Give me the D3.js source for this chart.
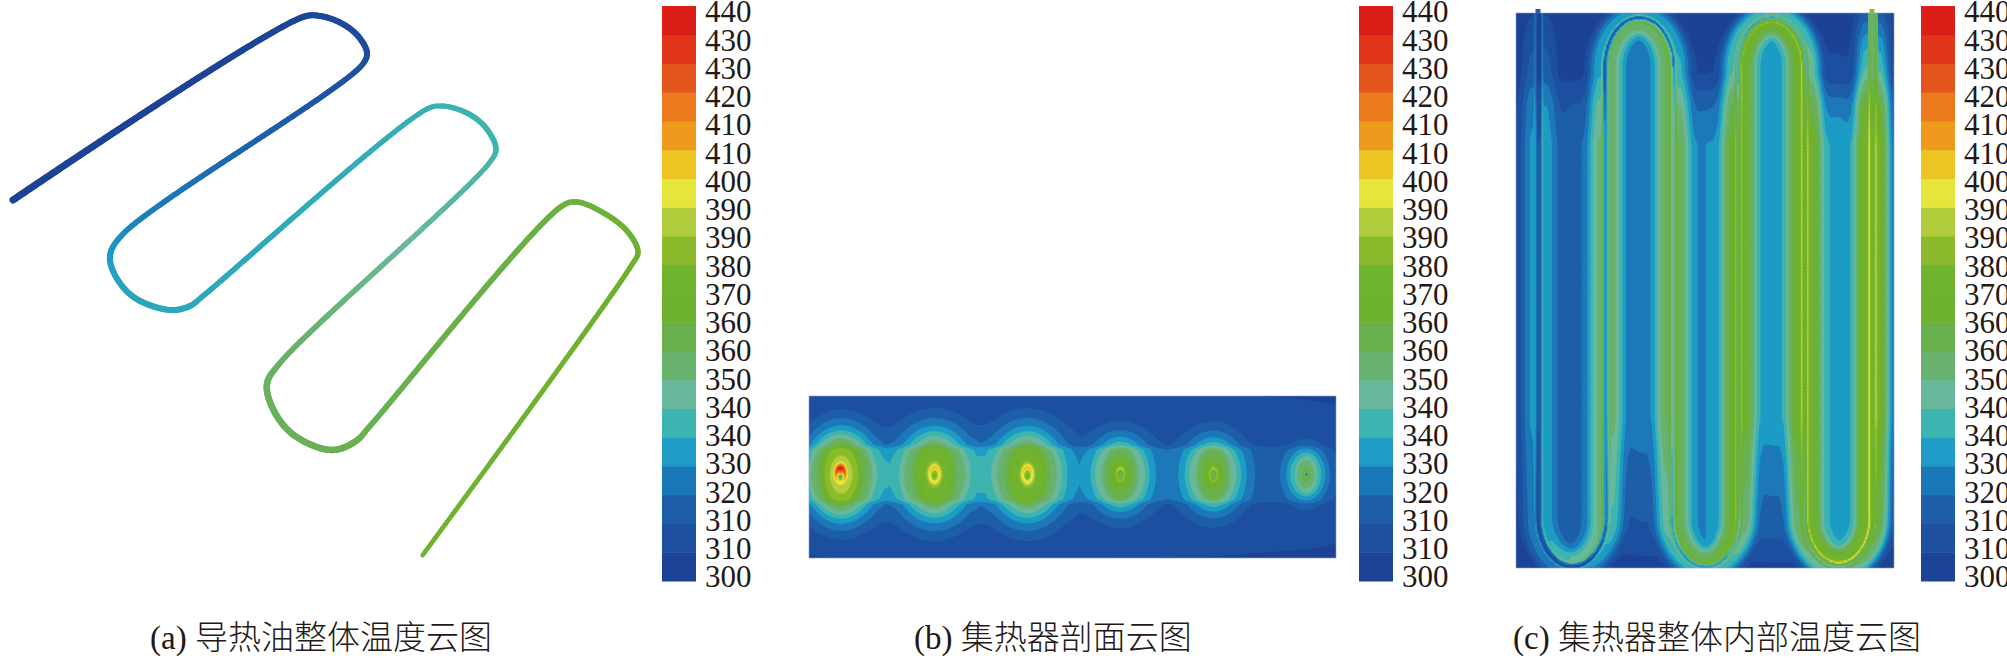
<!DOCTYPE html>
<html>
<head>
<meta charset="utf-8">
<script src="https://cdn.jsdelivr.net/npm/d3@7"></script>
<style>
   html, body {margin:0; padding:0; background:#fff; overflow:hidden;}
   text {fill:#231815;}
   .caption {font-family:"Liberation Serif","Noto Sans CJK SC"; font-size:33px; font-weight:300;}
</style>
</head>
<body>
<svg id="chart" width="2007" height="658"></svg>
<script>
// legend, top label first, colours bottom band first
var legendLabels = [440,430,430,420,410,410,400,390,390,380,370,360,360,350,340,340,330,320,310,310,300]
var legendColors = ['#1c4395','#1f4f9f','#1e5ea8','#1b78b8','#1e9cc5','#3cb4b0','#6ab89c','#68b26e','#69b04f','#6db12e',
                    '#6fb32f','#8bbb2c','#b2cd3c','#e6e53b','#ecc523','#ef9a1c','#ea7a1b','#e4551d','#e1361a','#db1e17']
var tempMin = 300
var tempMax = 440

var captions = ['(a) 导热油整体温度云图','(b) 集热器剖面云图','(c) 集热器整体内部温度云图']

// (a) oil pipe centre line and temperature read along it
var pipeX = [13,303,320,341,358,367,362,122,110,116,135,170,190,203,427,442,467,486,496,490,280,267,274,295,332,356,370,562,577,602,627,638,631,422]
var pipeY = [200,17,16,23,36,53,65,235,256,277,298,310,306,296,109,106,113,128,149,162,363,384,411,436,450,441,426,206,202,212,231,252,266,556]
var pipeT = [300,305,306,307,308,309,310,328,331,333,334,335,335,335,337,338,338,339,339,340,354,356,357,358,358,359,359,362,363,364,365,366,366,374]
var pipeW = [7,6,6,6,6,6,5.5,5.5,6,6,6,6,6,5.5,5,5,5.5,5.5,5.5,5,5.5,6.5,6.5,6.5,6.5,6.5,5.5,5.5,5.5,5.5,5.5,5.5,5,4.5]

// (b) section: hot spots on the tubes
var spotX = [840,934,1027,1120,1213,1306]
var spotY = [474,474,474,474,474,474]
var spotPeak = [1.22,1.0,1.0,0.86,0.86,0.72]
var spotSize = [0.95,1.0,1.0,0.8,0.8,0.55]
var spotHole = [65,50,50,32,32,4]
var spotTilt = [0.45,0.1,0.1,0.05,0.05,0]
var spotR = [7,10,13,18,24,29,35,40,45,51,60,70,85]
var spotExcess = [78,68,55,52,48,46,34,28,21,15,9,4,1]
var aspectR = [30,45]
var aspectV = [0.62,0.75]
var bandX = [809,840,934,1027,1120,1213,1306,1337]
var bandV = [0.7,1,1,1,0.85,0.8,0.55,0.4]
var bandDy = [0,25,30,50,78,90]
var bandExcess = [18,18,9,6,2,1]

// (c) tube legs inside the collector
var legX = [1538,1605,1672,1738,1804,1872]
var legA = [30,48,50,58,61,78]
var legHole = [0.05,0.2,0.4,0.5,0.55,0.6]
var coreD = [0,3.2,4.6,9,13,18,21,25]
var coreV = [1,1,0.6,0.58,0.42,0.17,0.05,0]
var plateauX = [1516,1538,1572,1605,1638,1672,1705,1738,1771,1804,1838,1872,1894]
var plateauV = [8,13,20,22,26,27,28,32,33,34,35,28,17]
var gapX = [1516,1538,1605,1672,1738,1804,1872,1894]
var gapOpen = ['both','top','bottom','top','bottom','top','both']
var openTopD = [0,60,90,130]
var openTopF = [0.1,0.25,0.7,1]
var openBottomD = [0,38,115,150]
var openBottomF = [0.15,0.5,0.8,1]
var endTaperD = [0,30,90]
var endTaperF = [0.3,0.6,1]

var svg = d3.select('#chart')

var defs = svg.append('defs')
defs.append('filter').attr('id','soft')
   .append('feGaussianBlur').attr('stdDeviation',0.5)

var thresholds = legendColors.slice(1).map(function(d,i){return tempMin+(i+1)*(tempMax-tempMin)/legendColors.length})

// continuous colour for the pipe, same colours as the legend
var bandTemp = legendColors.map(function(d,i){return tempMin+(i+0.5)*(tempMax-tempMin)/legendColors.length})
var tempColor = d3.scaleLinear().domain(bandTemp).range(legendColors).clamp(true)

// legends

var legendY = d3.scaleLinear().domain([0,legendLabels.length-1]).range([12,577])
var barY = d3.scaleLinear().domain([0,legendColors.length]).range([581,6])

function drawLegend(x){
   var g = svg.append('g').attr('class','legend').attr('transform','translate('+x+',0)')
   g.selectAll('rect')
      .data(legendColors)
      .enter()
      .append('rect')
      .attr('x',0)
      .attr('width',34)
      .attr('y',function(d,i){return barY(i+1)})
      .attr('height',function(d,i){return barY(i)-barY(i+1)+0.5})
      .style('fill',function(d){return d})
   var axis = d3.axisRight(legendY)
      .tickValues(d3.range(legendLabels.length))
      .tickFormat(function(d){return legendLabels[d]})
      .tickSize(0)
      .tickPadding(43)
   g.append('g').call(axis).call(function(a){a.select('.domain').remove()})
      .selectAll('text')
      .style('font-family','"Liberation Serif"')
      .style('font-size','31px')
}
drawLegend(662)
drawLegend(1359)
drawLegend(1921)

// (a) pipe

var pipeLine = d3.line().curve(d3.curveCatmullRom.alpha(0.5))
var pipePath = svg.append('path')
   .attr('d',pipeLine(pipeX.map(function(x,i){return [x,pipeY[i]]})))
   .style('fill','none')
   .style('stroke','none')

var chord = [0]
pipeX.forEach(function(x,i){
   if (i>0){
      chord.push(chord[i-1]+Math.hypot(x-pipeX[i-1],pipeY[i]-pipeY[i-1]))
   }
})
var chordT = d3.scaleLinear().domain(chord).range(pipeT)
var chordW = d3.scaleLinear().domain(chord).range(pipeW)

var pipeLen = pipePath.node().getTotalLength()
var pipeSteps = d3.range(0,pipeLen,3).map(function(l){
   var p = pipePath.node().getPointAtLength(l)
   var c = l/pipeLen*chord[chord.length-1]
   return {x:p.x,y:p.y,t:chordT(c),w:chordW(c)}
})

svg.append('g').attr('class','pipe')
   .selectAll('line')
   .data(pipeSteps.slice(1))
   .enter()
   .append('line')
   .attr('x1',function(d,i){return pipeSteps[i].x})
   .attr('y1',function(d,i){return pipeSteps[i].y})
   .attr('x2',function(d){return d.x})
   .attr('y2',function(d){return d.y})
   .style('stroke',function(d){return tempColor(d.t)})
   .style('stroke-width',function(d){return d.w})
   .style('stroke-linecap','round')

// draws a temperature grid as filled bands inside a box
function drawField(box,step,values,w,h,id){
   defs.append('clipPath').attr('id',id)
      .append('rect').attr('x',box.x0).attr('y',box.y0).attr('width',box.x1-box.x0).attr('height',box.y1-box.y0)

   var contours = d3.contours().size([w,h]).thresholds(thresholds)(values)
   var path = d3.geoPath(d3.geoTransform({
      point:function(x,y){this.stream.point(box.x0+x*step,box.y0+y*step)}
   }))

   var g = svg.append('g').attr('clip-path','url(#'+id+')')
   var inner = g.append('g').attr('filter','url(#soft)')
   inner.append('rect')
      .attr('x',box.x0-3).attr('y',box.y0-3)
      .attr('width',box.x1-box.x0+6).attr('height',box.y1-box.y0+6)
      .style('fill',legendColors[0])
   inner.selectAll('path')
      .data(contours)
      .enter()
      .append('path')
      .attr('d',path)
      .style('fill',function(d,i){return legendColors[i+1]})

   svg.append('rect')
      .attr('x',box.x0).attr('y',box.y0)
      .attr('width',box.x1-box.x0).attr('height',box.y1-box.y0)
      .style('fill','none')
      .style('stroke','#8c9dd0')
      .style('stroke-width',1)
      .style('opacity',0.6)
}

// (b) section

var boxB = {x0:809,x1:1336,y0:396,y1:558}
var spotScale = d3.scaleLinear().domain(spotR).range(spotExcess).clamp(true)
var aspectScale = d3.scaleLinear().domain(aspectR).range(aspectV).clamp(true)
var bandScale = d3.scaleLinear().domain(bandDy).range(bandExcess).clamp(true)
var bandXScale = d3.scaleLinear().domain(bandX).range(bandV).clamp(true)

var wB = boxB.x1-boxB.x0+1
var hB = boxB.y1-boxB.y0+1
var fieldB = new Float64Array(wB*hB)
for (var j=0;j<hB;j++){
   for (var i=0;i<wB;i++){
      var px = boxB.x0+i
      var py = boxB.y0+j
      var v = bandScale(Math.abs(py-474))*bandXScale(px)
      spotX.forEach(function(sx,k){
         var dy = py-spotY[k]
         var r0 = Math.hypot((px-sx)/0.7,dy)
         var r = Math.hypot((px-sx)/aspectScale(r0/spotSize[k]),dy)
         var holeR = spotR[0]*spotSize[k]
         var peak = spotExcess[0]*spotPeak[k]
         var e
         if (r<holeR){
            e = spotHole[k]+(peak-spotHole[k])*(r*r/(holeR*holeR))
         } else {
            e = spotScale(r/spotSize[k])*spotPeak[k]
         }
         if (r>0 && r<14){
            e = e*(1+spotTilt[k]*(-dy/r)*(1-r/14))
         }
         v += e
      })
      fieldB[j*wB+i] = tempMin+v
   }
}
drawField(boxB,1,Array.from(fieldB),wB,hB,'clipB')

// (c) collector

var boxC = {x0:1516,x1:1894,y0:13,y1:568}
var archB = 48
var tubeTop = 18
var tubeBottom = 565

var tube = []
function addTube(x,y,p){tube.push({x:x,y:y,p:p})}
legX.forEach(function(x,k){
   var up = k%2==0
   var yStart = (k==0) ? 10 : (up ? tubeTop+archB : tubeBottom-archB)
   var yEnd = (k==legX.length-1) ? 10 : (up ? tubeBottom-archB : tubeTop+archB)
   var n = Math.abs(yEnd-yStart)/2.5
   d3.range(n).forEach(function(q){addTube(x,yStart+(yEnd-yStart)*q/n,k)})
   if (k<legX.length-1){
      var cx = (x+legX[k+1])/2
      var cy = yEnd
      var a = (legX[k+1]-x)/2
      d3.range(0,1,0.02).forEach(function(q){
         var ang = Math.PI*q
         addTube(cx-a*Math.cos(ang), cy+(up?1:-1)*archB*Math.sin(ang), k+q)
      })
   }
})
var legIndex = d3.range(legX.length)
var tubeAScale = d3.scaleLinear().domain(legIndex).range(legA)
var tubeHoleScale = d3.scaleLinear().domain(legIndex).range(legHole)
var taperScale = d3.scaleLinear().domain(endTaperD).range(endTaperF).clamp(true)
tube.forEach(function(s){
   s.a = tubeAScale(s.p)
   s.h = tubeHoleScale(s.p)
   s.taper = (s.p==0 || s.p==legX.length-1) ? taperScale(s.y-boxC.y0) : 1
})

var coreScale = d3.scaleLinear().domain(coreD).range(coreV).clamp(true)
var plateauScale = d3.scaleLinear().domain(plateauX).range(plateauV).clamp(true)
var openTop = d3.scaleLinear().domain(openTopD).range(openTopF).clamp(true)
var openBottom = d3.scaleLinear().domain(openBottomD).range(openBottomF).clamp(true)

var stepC = 1.5
var wC = Math.ceil((boxC.x1-boxC.x0)/stepC)+1
var hC = Math.ceil((boxC.y1-boxC.y0)/stepC)+1
var fieldC = new Array(wC*hC)
var tubeXs = Float64Array.from(tube,function(s){return s.x})
var tubeYs = Float64Array.from(tube,function(s){return s.y})
var archCy = tubeTop+archB
var uCy = tubeBottom-archB
for (var jc=0;jc<hC;jc++){
   var yc = boxC.y0+jc*stepC
   var fTop = openTop(yc-boxC.y0)
   var fBottom = openBottom(boxC.y1-yc)
   for (var ic=0;ic<wC;ic++){
      var xc = boxC.x0+ic*stepC
      var best = 1e12
      var bestK = 0
      for (var k=0;k<tubeXs.length;k++){
         var ddx = tubeXs[k]-xc
         var ddy = tubeYs[k]-yc
         var d2 = ddx*ddx+ddy*ddy
         if (d2<best){best = d2; bestK = k}
      }
      var dist = Math.sqrt(best)
      var s = tube[bestK]
      var core = coreScale(dist)
      // cool inside of the tube, bright wall on either side
      if (dist<2.2){
         core = s.h
      } else if (dist<3.2){
         core = s.h+(1-s.h)*(dist-2.2)
      }
      if (dist>=5){
         core = core*s.taper
      }
      var gap = 0
      while (gap<gapOpen.length-1 && xc>gapX[gap+1]){gap++}
      var f = 1
      var gapMid = (gapX[gap]+gapX[gap+1])/2
      var gapHalf = (gapX[gap+1]-gapX[gap])/2
      if (gapOpen[gap]=='top'){
         f = fTop
         // corners outside the bottom bend count as open too
         if (yc>uCy && Math.pow((xc-gapMid)/gapHalf,2)+Math.pow((yc-uCy)/archB,2)>1){f = fBottom}
      }
      if (gapOpen[gap]=='bottom'){
         f = fBottom
         if (yc<archCy && Math.pow((xc-gapMid)/gapHalf,2)+Math.pow((yc-archCy)/archB,2)>1){f = fTop}
      }
      if (gapOpen[gap]=='both'){f = Math.min(fTop,fBottom)}
      fieldC[jc*wC+ic] = tempMin+s.a*core+plateauScale(xc)*f
   }
}
drawField(boxC,stepC,fieldC,wC,hC,'clipC')

// tube ends poking out of the top edge

svg.append('g').selectAll('rect')
   .data([0,legX.length-1])
   .enter()
   .append('rect')
   .attr('x',function(d){return legX[d]-2.5})
   .attr('y',9)
   .attr('width',5)
   .attr('height',5)
   .style('fill',function(d){return d==0 ? '#1e5ea8' : '#8bbb2c'})

// captions

var captionX = [150,914,1513]
svg.selectAll('.caption')
   .data(captions)
   .enter()
   .append('text')
   .attr('class','caption')
   .attr('x',function(d,i){return captionX[i]})
   .attr('y',649)
   .text(function(d){return d})
</script>
</body>
</html>
